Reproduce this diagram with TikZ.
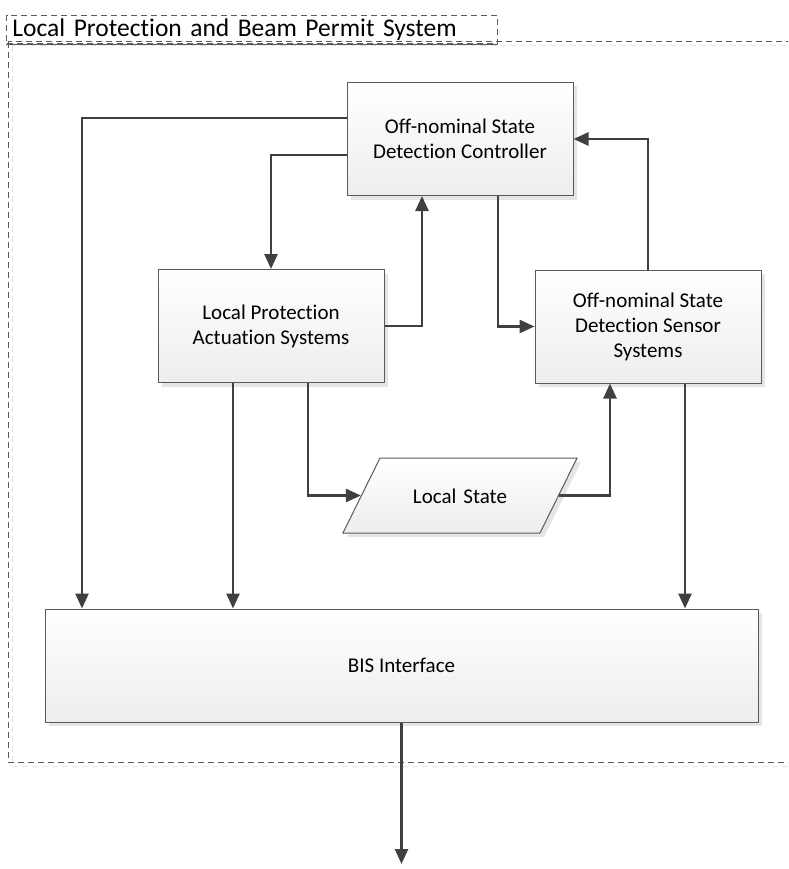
\documentclass[tikz,border=0pt]{standalone}
\usepackage{fontspec}
\setmainfont{Carlito}[Ligatures=NoCommon]
\usetikzlibrary{positioning,arrows.meta,shapes.geometric,shadows}
\definecolor{lineclr}{HTML}{404040}
\definecolor{edgeclr}{HTML}{5A5A5A}
\tikzset{
  blk/.style={draw=edgeclr,line width=1pt,rectangle,top color=white,bottom color=black!7,minimum width=226pt,minimum height=113pt,align=center,font=\fontsize{21}{25}\selectfont,drop shadow={shadow xshift=4pt,shadow yshift=-4pt,fill=black!10,opacity=1}},
  datab/.style={blk,trapezium,trapezium left angle=63.7,trapezium right angle=116.3,minimum width=0pt,minimum height=0pt,text width=160pt,text height=18pt,text depth=3pt,inner xsep=0pt,inner ysep=27pt},
  ttl/.style={draw=edgeclr,dash pattern=on 6pt off 4pt,line width=1pt,rectangle,minimum width=491pt,minimum height=27pt,text width=479pt,align=left,inner xsep=6pt,font=\fontsize{25.5}{28}\selectfont},
  frame/.style={draw=edgeclr,dash pattern=on 6pt off 4pt,line width=1pt},
  arr/.style={-{Triangle[length=15pt,width=13pt]},line width=2.6pt,draw=lineclr}
}

\begin{document}
\begin{tikzpicture}[x=1pt,y=-1pt]
\useasboundingbox (0,0) rectangle (788,869);
\clip (0,0) rectangle (788,869);

% frame and title
\draw[frame,draw=black!10] (12,46) rectangle (824,766);
\draw[frame] (8,42) rectangle (820,762);
\node[ttl,anchor=north west] (title) at (6,15) {Local Protection and Beam Permit System};
\draw[edgeclr,line width=1pt] (title.south west) -- (title.south east);

% blocks
\node[blk] (ctl) at (460,139) {Off-nominal State\\Detection Controller};
\node[blk] (lpa) at (271,326) {Local Protection\\Actuation Systems};
\node[blk] (sen) at (648,326.5) {Off-nominal State\\Detection Sensor\\Systems};
\node[datab] (ls) at (460,495.5) {Local State};
\node[blk,minimum width=713pt] (bis) at (401.5,665.5) {BIS Interface};
\coordinate (out) at (401.5,864);

% connectors
\draw[arr] ([yshift=21pt]ctl.west) -| ([xshift=-319.5pt]bis.north);
\draw[arr] ([yshift=-16pt]ctl.west) -| (lpa.north);
\draw[arr] (lpa.east) -| ([xshift=-38pt]ctl.south);
\draw[arr] ([xshift=38pt]ctl.south) |- (sen.west);
\draw[arr] (sen.north) |- (ctl.east);
\draw[arr] ([xshift=-38pt]lpa.south) -- ([xshift=-38pt]lpa.south |- bis.north);
\draw[arr] ([xshift=37pt]lpa.south) |- (ls);
\draw[arr] (ls) -| ([xshift=-38pt]sen.south);
\draw[arr] ([xshift=37pt]sen.south) -- ([xshift=37pt]sen.south |- bis.north);
\draw[arr] (bis.south) -- (out);

\end{tikzpicture}
\end{document}
